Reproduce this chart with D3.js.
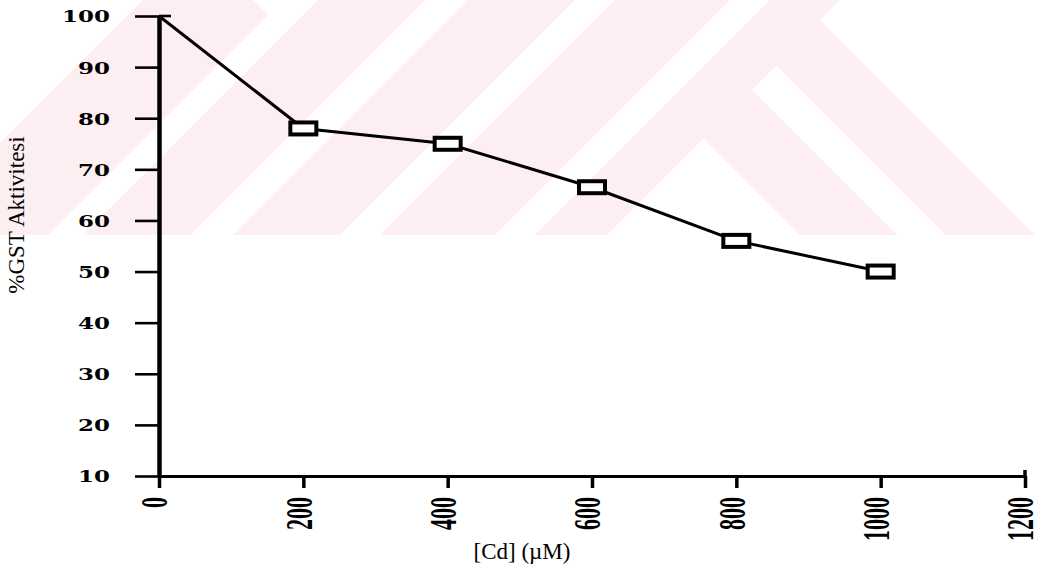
<!DOCTYPE html>
<html>
<head>
<meta charset="utf-8">
<script src="https://cdn.jsdelivr.net/npm/d3@7"></script>
<style>
  html, body { margin: 0; padding: 0; background: #fff; }
  svg { display: block; }
</style>
</head>
<body>
<svg id="chart" width="1042" height="572"></svg>
<script>
// Cd concentration (µM) and remaining GST activity (%)
const concentrations = [0, 200, 400, 600, 800, 1000];
const gstActivity = [100, 78, 75, 66.5, 56, 50];
const xTickValues = [0, 200, 400, 600, 800, 1000, 1200];
const yTickValues = [10, 20, 30, 40, 50, 60, 70, 80, 90, 100];
const xTitle = "[Cd] (\u00B5M)";
const yTitle = "%GST Aktivitesi";

const svg = d3.select("#chart");
const W = 1042;

// ---- faint background emblem (diagonal bands) ----
const bg = svg.append("g");
bg.append("clipPath").attr("id", "bandClip")
  .append("rect").attr("x", 0).attr("y", 0).attr("width", W).attr("height", 235);
const emblem = bg.append("g").attr("clip-path", "url(#bandClip)");
emblem.append("rect").attr("x", 0).attr("y", 0).attr("width", W).attr("height", 235)
  .attr("fill", "#fdeef1");
// bands bounded by lines x+y=u (slash) and x-y=v (backslash)
const uBand = (u1, u2) => [[u1 + 50, -50], [u2 + 50, -50], [u2 - 300, 300], [u1 - 300, 300]];
const cutouts = [
  [[-300, -50], [193, -50], [-157, 300], [-300, 300]],
  uBand(283, 318),
  [[203, -50], [368, -50], [285.5, 32.5]],
  uBand(425, 468),
  uBand(575, 615),
  uBand(730, 770),
  [[703.5, 138.5], [542, 300], [865, 300]],
  [[752, 90], [776.5, 65.5], [1011, 300], [962, 300]],
  [[820, 20], [840, 0], [1300, 0], [1300, 300], [1100, 300]]
];
emblem.selectAll("polygon").data(cutouts).join("polygon")
  .attr("points", d => d.map(p => p.join(",")).join(" "))
  .attr("fill", "#fff");

// ---- scales ----
const x = d3.scaleLinear().domain([0, 1200]).range([159, 1025]);
const y = d3.scaleLinear().domain([10, 100]).range([476, 16]);

// ---- y axis ----
const yAxis = svg.append("g").attr("transform", `translate(${x(0)},0)`)
  .call(d3.axisLeft(y).tickValues(yTickValues).tickSize(24).tickSizeOuter(0));
yAxis.select(".domain").attr("stroke", "#000").attr("stroke-width", 4.5);
yAxis.selectAll(".tick line").attr("stroke", "#000").attr("stroke-width", 2.6);
yAxis.selectAll(".tick text")
  .attr("x", null).attr("dy", null)
  .attr("transform", "translate(-49,0) scale(1.35,1)")
  .attr("text-anchor", "end")
  .attr("dominant-baseline", "central")
  .attr("fill", "#000")
  .style("font-family", "'DejaVu Serif', serif")
  .style("font-weight", "bold")
  .style("font-size", "17px");
// top tick crosses the axis
svg.append("line")
  .attr("x1", x(0)).attr("x2", x(0) + 12)
  .attr("y1", y(100)).attr("y2", y(100))
  .attr("stroke", "#000").attr("stroke-width", 2.6);

// ---- x axis ----
const xAxis = svg.append("g").attr("transform", `translate(0,${y(10)})`)
  .call(d3.axisBottom(x).tickValues(xTickValues).tickFormat(d3.format("d"))
    .tickSize(12).tickSizeOuter(0));
xAxis.select(".domain").attr("stroke", "#000").attr("stroke-width", 3);
xAxis.selectAll(".tick line").attr("stroke", "#000").attr("stroke-width", 3.5);
xAxis.selectAll(".tick text")
  .attr("y", null).attr("dy", null)
  .attr("transform", "translate(-5,21) rotate(-90) scale(1,1.75)")
  .attr("text-anchor", "end")
  .attr("dominant-baseline", "central")
  .attr("fill", "#000")
  .style("font-family", "'Liberation Serif', serif")
  .style("font-weight", "bold")
  .style("font-size", "22px");
// end cap at the last tick
svg.append("line")
  .attr("x1", x(1200)).attr("x2", x(1200))
  .attr("y1", y(10) - 6).attr("y2", y(10))
  .attr("stroke", "#000").attr("stroke-width", 3.5);

// ---- axis titles ----
svg.append("text")
  .attr("transform", `translate(24,215) rotate(-90)`)
  .attr("text-anchor", "middle")
  .style("font-family", "'Liberation Serif', serif")
  .style("font-size", "23px")
  .text(yTitle);
svg.append("text")
  .attr("x", 522).attr("y", 559)
  .attr("text-anchor", "middle")
  .style("font-family", "'Liberation Serif', serif")
  .style("font-size", "23px")
  .text(xTitle);

// ---- data line and markers ----
const points = concentrations.map((c, i) => ({ c, v: gstActivity[i] }));
svg.append("path")
  .datum(points)
  .attr("fill", "none")
  .attr("stroke", "#000")
  .attr("stroke-width", 3)
  .attr("stroke-linejoin", "round")
  .attr("d", d3.line().x(d => x(d.c)).y(d => y(d.v)));

svg.selectAll("rect.marker")
  .data(points.filter(d => d.c > 0))
  .join("rect")
  .attr("class", "marker")
  .attr("x", d => x(d.c) - 13)
  .attr("y", d => y(d.v) - 6)
  .attr("width", 26)
  .attr("height", 12)
  .attr("fill", "#fff")
  .attr("stroke", "#000")
  .attr("stroke-width", 4);
</script>
</body>
</html>
